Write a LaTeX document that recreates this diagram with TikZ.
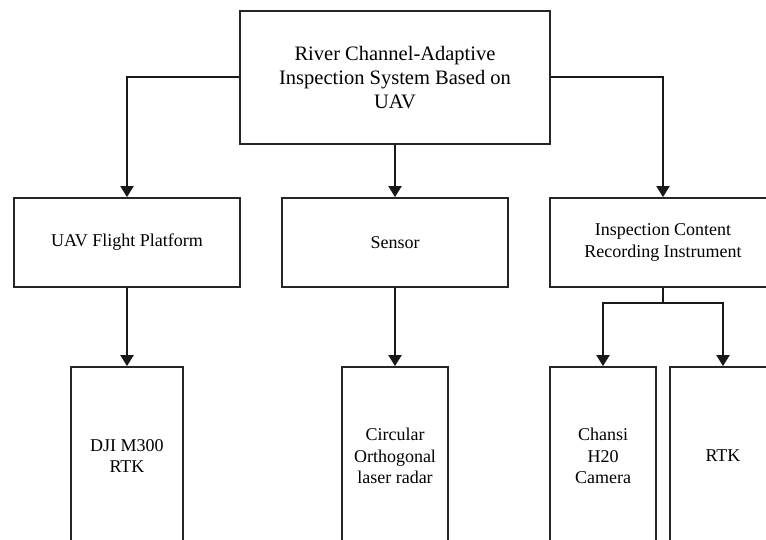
\documentclass[tikz,border=0pt]{standalone}
\usepackage{fontspec}
\setmainfont{Liberation Serif}
\usetikzlibrary{arrows.meta}

\tikzset{
  box/.style={draw=black!85, line width=1.8pt, align=center, inner sep=0pt,
              font=\fontsize{18}{21.6}\selectfont},
  topbox/.style={box, font=\fontsize{20.5}{24}\selectfont,
                 minimum width=310pt, minimum height=133pt},
  midbox/.style={box, minimum width=226pt, minimum height=89pt},
  leafbox/.style={box, minimum height=178pt},
  link/.style={draw=black!90, line width=2pt,
               -{Triangle[width=13pt,length=11pt]}},
  plain/.style={draw=black!90, line width=2pt}
}

\begin{document}
\begin{tikzpicture}[x=1pt, y=-1pt]
  \useasboundingbox (0,0) rectangle (766,540);
  \clip (0,0) rectangle (766,540);
  \fill[white] (0,0) rectangle (766,540);

  % root of the hierarchy
  \node[topbox] (root) at (395,77.5)
    {River Channel-Adaptive\\Inspection System Based on\\UAV};

  % second level
  \node[midbox] (uav)    at (127,242.5) {UAV Flight Platform};
  \node[midbox] (sensor) at (395,242.5) {Sensor};
  \node[midbox] (record) at (663,242.5) {Inspection Content\\Recording Instrument};

  % third level (runs past the lower edge)
  \node[leafbox, minimum width=112pt] (dji)   at (127,456) {DJI M300\\RTK};
  \node[leafbox, minimum width=106pt] (radar) at (395,456) {Circular\\Orthogonal\\laser radar};
  \node[leafbox, minimum width=106pt] (cam)   at (603,456) {Chansi\\H20\\Camera};
  \node[leafbox, minimum width=106pt] (rtk)   at (723,456) {RTK};

  % connectors
  \draw[link] (root.west) -| (uav.north);
  \draw[link] (root.south) -- (sensor.north);
  \draw[link] (root.east) -| (record.north);
  \draw[link] (uav.south) -- (dji.north);
  \draw[link] (sensor.south) -- (radar.north);

  \coordinate (fork) at (663,303);
  \draw[plain] (record.south) -- (fork);
  \draw[link] (fork) -| (cam.north);
  \draw[link] (fork) -| (rtk.north);
\end{tikzpicture}
\end{document}
